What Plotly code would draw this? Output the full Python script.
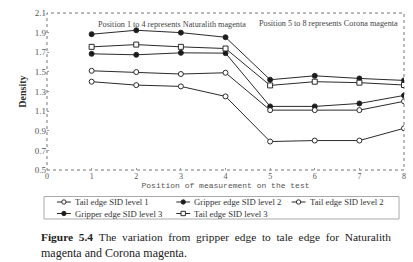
import plotly.graph_objects as go

positions = [1, 2, 3, 4, 5, 6, 7, 8]
tail_l1 = [1.40, 1.365, 1.352, 1.25, 0.79, 0.80, 0.80, 0.925]
grip_l2 = [1.684, 1.674, 1.694, 1.691, 1.148, 1.148, 1.178, 1.26]
tail_l2 = [1.511, 1.498, 1.478, 1.491, 1.11, 1.11, 1.11, 1.20]
grip_l3 = [1.884, 1.924, 1.90, 1.853, 1.42, 1.46, 1.433, 1.413]
tail_l3 = [1.755, 1.778, 1.755, 1.738, 1.362, 1.40, 1.39, 1.366]

series_names = ["Tail edge SID level 1", "Gripper edge SID level 2", "Tail edge SID level 2",
                "Gripper edge SID level 3", "Tail edge SID level 3"]
series_vals = [tail_l1, grip_l2, tail_l2, grip_l3, tail_l3]
series_symbols = ["circle", "circle", "circle", "circle", "square"]
series_fills = ["white", "#1a1a1a", "white", "#1a1a1a", "white"]

serif = "Liberation Serif"
ink = "#2a2a2a"

W, H = 413, 262
ML, MR, MT, MB = 47, 7, 13, 92
PW, PH = W - ML - MR, H - MT - MB


def px(xp):
    return (xp - ML) / PW


def py(yp):
    return (H - MB - yp) / PH


fig = go.Figure()
for name, vals, sym, fill in zip(series_names, series_vals, series_symbols, series_fills):
    fig.add_trace(go.Scatter(
        x=positions, y=vals, name=name, mode="lines+markers", showlegend=False,
        line=dict(color=ink, width=1),
        marker=dict(symbol=sym, size=5, color=fill, line=dict(color=ink, width=1)),
    ))

shapes = [dict(type="rect", xref="paper", yref="paper", x0=0, x1=1, y0=0, y1=1,
               line=dict(color="#777", width=1, dash="dot"), layer="below")]
annotations = [
    dict(x=2.79, y=1.985, xref="x", yref="y", showarrow=False,
         text="Position 1 to 4 represents Naturalith magenta",
         font=dict(size=8.2, family=serif, color="#444")),
    dict(x=6.31, y=1.995, xref="x", yref="y", showarrow=False,
         text="Position 5 to 8 represents Corona magenta",
         font=dict(size=8.2, family=serif, color="#444")),
]

# compact legend (box, key glyphs, labels)
shapes.append(dict(type="rect", xref="paper", yref="paper",
                   x0=px(44), x1=px(401), y0=py(219), y1=py(196.5),
                   line=dict(color="#aaa", width=1), fillcolor="white"))
legend_slots = [(57, 202), (177, 202), (293, 202), (57, 213.5), (177, 213.5)]
for (lx, ly), name, sym, fill in zip(legend_slots, series_names, series_symbols, series_fills):
    shapes.append(dict(type="line", xref="paper", yref="paper",
                       x0=px(lx), x1=px(lx + 14), y0=py(ly), y1=py(ly),
                       line=dict(color=ink, width=1)))
    shapes.append(dict(type="circle" if sym == "circle" else "rect",
                       xref="paper", yref="paper",
                       xsizemode="pixel", ysizemode="pixel",
                       xanchor=px(lx + 7), yanchor=py(ly),
                       x0=-2.2, x1=2.2, y0=-2.2, y1=2.2,
                       fillcolor=fill, line=dict(color=ink, width=1)))
    annotations.append(dict(x=px(lx + 16), y=py(ly), xref="paper", yref="paper",
                            xanchor="left", yanchor="middle", showarrow=False,
                            text=name, font=dict(size=8.7, family=serif, color="#333")))

nb = " \u00a0"
line1 = ("<b>Figure" + nb + "5.4</b>" + nb + nb.join(
    "The variation from gripper edge to tale edge for Naturalith".split(" ")))
annotations.append(dict(x=px(39), y=py(237), xref="paper", yref="paper",
                        xanchor="left", yanchor="middle", showarrow=False,
                        text=line1, font=dict(size=11.4, family=serif, color="#222")))
annotations.append(dict(x=px(39), y=py(252.5), xref="paper", yref="paper",
                        xanchor="left", yanchor="middle", showarrow=False,
                        text="magenta and Corona magenta.",
                        font=dict(size=12, family=serif, color="#222")))

fig.update_layout(
    width=W, height=H,
    margin=dict(l=ML, r=MR, t=MT, b=MB),
    paper_bgcolor="white", plot_bgcolor="white",
    showlegend=False,
    font=dict(family=serif, color="#444"),
    xaxis=dict(range=[0, 8], tickmode="array", tickvals=[0, 1, 2, 3, 4, 5, 6, 7, 8],
               showgrid=False, zeroline=False, showline=False,
               ticks="inside", ticklen=2, tickcolor="#999",
               tickfont=dict(size=8, family=serif, color="#555"),
               title=dict(text="Position of measurement on the test",
                          font=dict(size=8, family="Liberation Mono", color="#555"),
                          standoff=1)),
    yaxis=dict(range=[0.5, 2.1], tickmode="array",
               tickvals=[0.5, 0.7, 0.9, 1.1, 1.3, 1.5, 1.7, 1.9, 2.1],
               ticktext=["0.5", "0.7", "0.9", "1.1", "1.3", "1.5", "1.7", "1.9", "2.1"],
               showgrid=False, zeroline=False, showline=False,
               ticks="inside", ticklen=2, tickcolor="#999",
               tickfont=dict(size=9, family=serif, color="#555"),
               title=dict(text="<b>Density</b>", font=dict(size=10, family=serif, color="#333"),
                          standoff=6)),
    shapes=shapes,
    annotations=annotations,
)

fig.write_html("out.html")
